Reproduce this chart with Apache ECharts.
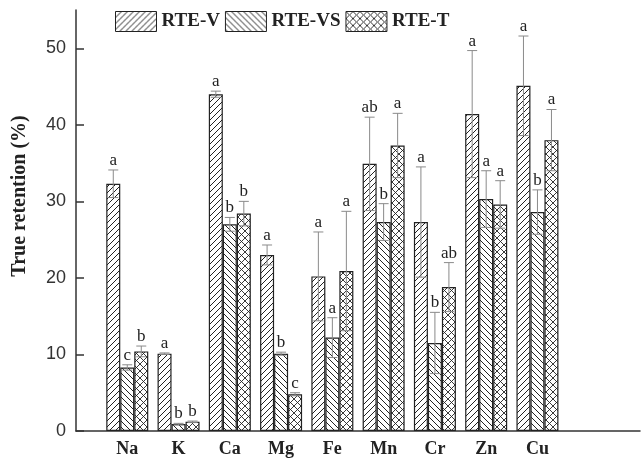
<!DOCTYPE html>
<html>
<head>
<meta charset="utf-8">
<script src="https://cdn.jsdelivr.net/npm/echarts@6/dist/echarts.min.js"></script>
<style>
html,body{margin:0;padding:0;background:#fff;}
#chart{width:643px;height:458px;}
</style>
</head>
<body>
<div id="chart"></div>
<script>
// ---- data ----
const elements = ['Na', 'K', 'Ca', 'Mg', 'Fe', 'Mn', 'Cr', 'Zn', 'Cu'];
const seriesNames = ['RTE-V', 'RTE-VS', 'RTE-T'];
const rteV   = [32.3, 10.1, 44.0, 23.0, 20.2, 34.9, 27.3, 41.4, 45.1];
const rteVS  = [8.3, 0.9, 27.0, 10.1, 12.2, 27.3, 11.5, 30.3, 28.6];
const rteT   = [10.4, 1.2, 28.4, 4.8, 20.9, 37.3, 18.8, 29.6, 38.0];
const errV   = [1.8, 0.1, 0.4, 1.3, 5.8, 6.1, 7.2, 8.3, 6.5];
const errVS  = [0.35, 0.1, 0.9, 0.2, 2.6, 2.4, 4.0, 3.7, 2.9];
const errT   = [0.7, 0.1, 1.6, 0.2, 7.8, 4.2, 3.2, 3.1, 4.0];
const letV   = ['a', 'a', 'a', 'a', 'a', 'ab', 'a', 'a', 'a'];
const letVS  = ['c', 'b', 'b', 'b', 'a', 'b', 'b', 'a', 'b'];
const letT   = ['b', 'b', 'b', 'c', 'a', 'a', 'ab', 'a', 'a'];
const yTicks = [0, 10, 20, 30, 40, 50];

// ---- build ----
const categories = [''].concat(elements, ['', '']);
const values = [rteV, rteVS, rteT];
const errs = [errV, errVS, errT];
const letters = [letV, letVS, letT];
const BW = 14;

function hatch(dirs, size, lw, col) {
  const c = document.createElement('canvas');
  c.width = size; c.height = size;
  const g = c.getContext('2d');
  g.fillStyle = '#fff'; g.fillRect(0, 0, size, size);
  g.strokeStyle = col; g.lineWidth = lw;
  dirs.forEach(function (d) {
    g.beginPath();
    for (let k = -1; k <= 1; k++) {
      if (d === '/') { g.moveTo(k * size, size); g.lineTo(k * size + size, 0); }
      else { g.moveTo(k * size, 0); g.lineTo(k * size + size, size); }
    }
    g.stroke();
  });
  return c;
}
const patterns = [
  { image: hatch(['/'], 6, 1, '#222'), repeat: 'repeat' },
  { image: hatch(['\\'], 6, 1, '#222'), repeat: 'repeat' },
  { image: hatch(['/', '\\'], 7, 0.9, '#222'), repeat: 'repeat' }
];

const serif = '"Liberation Serif", "Times New Roman", serif';
const sans = '"Liberation Sans", Arial, sans-serif';

const series = [];
values.forEach(function (vals, si) {
  series.push({
    name: seriesNames[si],
    type: 'bar',
    barWidth: BW,
    barGap: '0%',
    data: vals.map(function (v, i) { return [i + 1, v]; }),
    itemStyle: { color: patterns[si], borderColor: '#222', borderWidth: 1.2 },
    emphasis: { disabled: true },
    z: 2
  });
});
values.forEach(function (vals, si) {
  series.push({
    type: 'custom',
    name: 'err' + si,
    z: 5,
    silent: true,
    data: vals.map(function (v, i) { return [i + 1, v, errs[si][i]]; }),
    renderItem: function (params, api) {
      const ci = api.value(0), v = api.value(1), e = api.value(2);
      const c0 = api.coord([ci, v]);
      const ct = api.coord([ci, v + e]);
      const cb = api.coord([ci, Math.max(0, v - e)]);
      const x = c0[0] + (si - 1) * BW;
      const st = { stroke: '#8a8a8a', lineWidth: 1 };
      return {
        type: 'group',
        children: [
          { type: 'line', shape: { x1: x, y1: ct[1], x2: x, y2: cb[1] }, style: st },
          { type: 'line', shape: { x1: x - 5, y1: ct[1], x2: x + 5, y2: ct[1] }, style: st },
          { type: 'line', shape: { x1: x - 5, y1: cb[1], x2: x + 5, y2: cb[1] }, style: st },
          { type: 'text', x: x, y: ct[1] - 1,
            style: { text: letters[si][params.dataIndex], fill: '#222', font: '17px ' + serif,
                     align: 'center', verticalAlign: 'bottom' } }
        ]
      };
    }
  });
});

const chart = echarts.init(document.getElementById('chart'), null, { renderer: 'canvas' });
chart.setOption({
  animation: false,
  backgroundColor: '#fff',
  grid: { left: 76, right: -1, top: 10, bottom: 27, containLabel: false },
  legend: {
    data: seriesNames,
    left: 110, top: 6,
    itemWidth: 41, itemHeight: 20, itemGap: 5,
    icon: 'rect',
    itemStyle: { borderColor: '#222', borderWidth: 1 },
    textStyle: { fontFamily: serif, fontWeight: 'bold', fontSize: 19, color: '#222' },
    selectedMode: false
  },
  xAxis: {
    type: 'category',
    data: categories,
    boundaryGap: false,
    axisLine: { lineStyle: { color: '#333', width: 1.5 } },
    axisTick: { show: false },
    axisLabel: { interval: 0, margin: 9, fontFamily: serif, fontWeight: 'bold', fontSize: 18, color: '#222' },
    splitLine: { show: false }
  },
  yAxis: {
    type: 'value',
    min: 0, max: 55, interval: 10,
    axisLine: { show: true, lineStyle: { color: '#333', width: 1.5 } },
    axisTick: { show: true, inside: true, length: 8, lineStyle: { color: '#333', width: 1.5 }, customValues: yTicks },
    axisLabel: { margin: 10, fontFamily: sans, fontSize: 18, color: '#333', customValues: yTicks,
                 formatter: function (v) { return v % 10 === 0 ? String(v) : ''; } },
    splitLine: { show: false }
  },
  graphic: [{
    type: 'text',
    x: 20, y: 196,
    rotation: Math.PI / 2,
    style: { text: 'True retention (%)', font: 'bold 20px ' + serif, fill: '#222',
             align: 'center', verticalAlign: 'middle' }
  }],
  series: series
});
</script>
</body>
</html>
